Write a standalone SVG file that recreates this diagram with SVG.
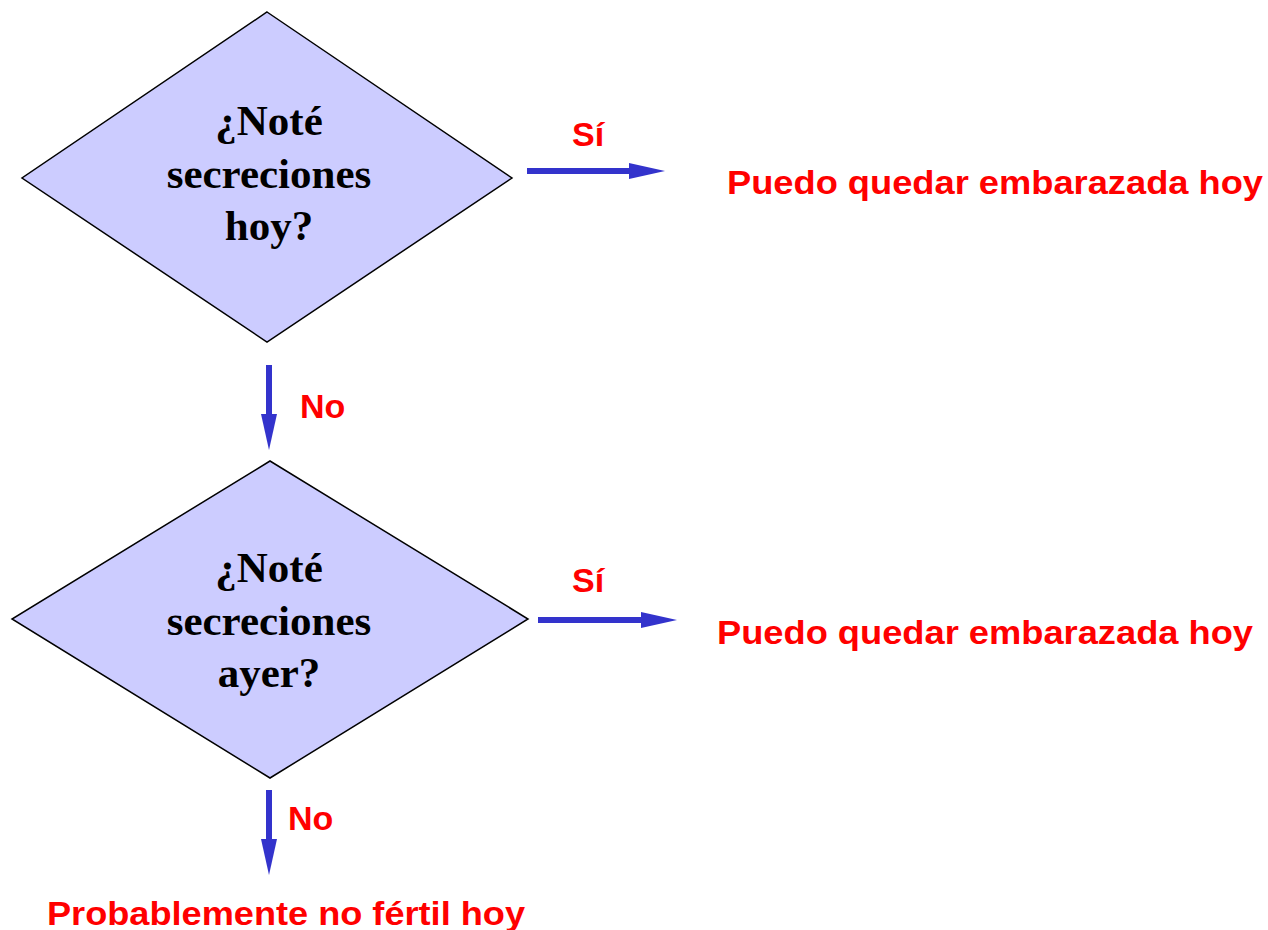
<svg xmlns="http://www.w3.org/2000/svg" width="1268" height="930" viewBox="0 0 1268 930">
<style>
.d{fill:#CCCCFF;stroke:#000;stroke-width:1.5}
.q{font-family:"Liberation Serif",serif;font-weight:bold;font-size:43px;fill:#000;text-anchor:middle}
.r{font-family:"Liberation Sans",Arial,sans-serif;font-weight:bold;font-size:34px;fill:#FF0000}
.l{font-family:"Liberation Sans",Arial,sans-serif;font-weight:bold;font-size:34px;fill:#FF0000}
.c{stroke:#3333CC;stroke-width:6;fill:none}
</style>
<defs>
<marker id="ah" markerUnits="userSpaceOnUse" markerWidth="36" markerHeight="16" refX="2" refY="8" orient="auto">
<path d="M0,0 L36,8 L0,16 Z" fill="#3333CC"/>
</marker>
</defs>
<g id="n1">
<polygon class="d" points="267,12 512,178 267,342 22,178"/>
<text class="q" x="269" y="135">¿Noté</text>
<text class="q" x="269" y="188">secreciones</text>
<text class="q" x="269" y="240">hoy?</text>
</g>
<g id="n2">
<polygon class="d" points="270,461 528,619 270,778 12,619"/>
<text class="q" x="269" y="582">¿Noté</text>
<text class="q" x="269" y="635">secreciones</text>
<text class="q" x="269" y="687">ayer?</text>
</g>
<g id="n3"><text class="r" x="727" y="194" textLength="536" lengthAdjust="spacingAndGlyphs">Puedo quedar embarazada hoy</text></g>
<g id="n4"><text class="r" x="717" y="644" textLength="536" lengthAdjust="spacingAndGlyphs">Puedo quedar embarazada hoy</text></g>
<g id="n5"><text class="r" x="47" y="925" textLength="478" lengthAdjust="spacingAndGlyphs">Probablemente no fértil hoy</text></g>
<g id="connectors">
<line class="c" x1="527" y1="171" x2="631" y2="171" marker-end="url(#ah)"/>
<text class="l" x="572" y="146">Sí</text>
<line class="c" x1="269" y1="365" x2="269" y2="416" marker-end="url(#ah)"/>
<text class="l" x="300" y="418">No</text>
<line class="c" x1="538" y1="620" x2="643" y2="620" marker-end="url(#ah)"/>
<text class="l" x="572" y="592">Sí</text>
<line class="c" x1="269" y1="790" x2="269" y2="841" marker-end="url(#ah)"/>
<text class="l" x="288" y="830">No</text>
</g>
</svg>
